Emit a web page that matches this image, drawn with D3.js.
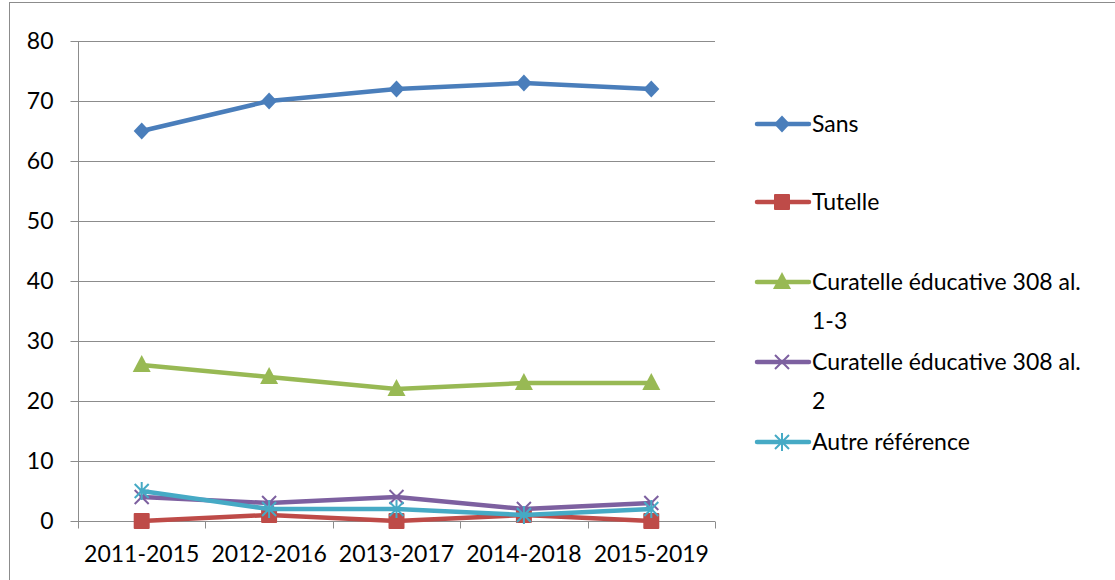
<!DOCTYPE html>
<html>
<head>
<meta charset="utf-8">
<script src="https://cdn.jsdelivr.net/npm/d3@7"></script>
<style>
  body { margin: 0; background: #fff; }
  svg text { font-family: Lato, "Open Sans", sans-serif; fill: #000; }
</style>
</head>
<body>
<div class="chart"></div>
<script>
// data
var periods = ["2011-2015", "2012-2016", "2013-2017", "2014-2018", "2015-2019"];
var sans = [65, 70, 72, 73, 72];
var tutelle = [0, 1, 0, 1, 0];
var curatelle13 = [26, 24, 22, 23, 23];
var curatelle2 = [4, 3, 4, 2, 3];
var autre = [5, 2, 2, 1, 2];
var yTicks = [0, 10, 20, 30, 40, 50, 60, 70, 80];

var series = [
    { name: ["Sans"], values: sans, color: "#4a7ebb", marker: "diamond" },
    { name: ["Tutelle"], values: tutelle, color: "#be4b48", marker: "square" },
    { name: ["Curatelle éducative 308 al.", "1-3"], values: curatelle13, color: "#98b954", marker: "triangle" },
    { name: ["Curatelle éducative 308 al.", "2"], values: curatelle2, color: "#7d60a0", marker: "x" },
    { name: ["Autre référence"], values: autre, color: "#46aac5", marker: "star" }
];

var svgWidth = 1115, svgHeight = 580;
var margin = { top: 41, left: 78, right: 400, bottom: 59 };
var width = 715 - margin.left;
var height = 521 - margin.top;
var fontSize = "23px";

var svg = d3.select(".chart").append("svg")
    .attr("width", svgWidth)
    .attr("height", svgHeight);

// outer frame
svg.append("rect")
    .attr("x", 9.5).attr("y", 2.5)
    .attr("width", 1120).attr("height", 600)
    .attr("fill", "none").attr("stroke", "#8c8c8c").attr("stroke-width", 1);

var chartGroup = svg.append("g")
    .attr("transform", `translate(${margin.left}, ${margin.top})`);

var xScale = d3.scaleBand().domain(periods).range([0, width]);
var yScale = d3.scaleLinear().domain([0, 80]).range([height, 0]);

// gridlines
chartGroup.append("g")
    .selectAll("line")
    .data(yTicks)
    .enter()
    .append("line")
    .attr("x1", 0).attr("x2", width)
    .attr("y1", d => Math.round(yScale(d)) + 0.5)
    .attr("y2", d => Math.round(yScale(d)) + 0.5)
    .attr("stroke", "#8c8c8c");

// y axis
var yAxis = d3.axisLeft(yScale).tickValues(yTicks).tickSize(8).tickPadding(17);
var yG = chartGroup.append("g").attr("transform", "translate(0.5,0)").call(yAxis);
yG.selectAll("path, line").attr("stroke", "#8c8c8c");
yG.selectAll("text").style("font-size", fontSize);
yG.select(".domain").attr("d", `M0,${height}V0`);

// x axis with ticks at band edges
var xG = chartGroup.append("g").attr("transform", `translate(0,${height + 0.5})`);
xG.append("line").attr("x1", 0).attr("x2", width).attr("stroke", "#8c8c8c");
var edges = periods.map(p => xScale(p)).concat([width]);
xG.selectAll(".edge")
    .data(edges)
    .enter()
    .append("line")
    .attr("class", "edge")
    .attr("x1", d => Math.round(d) + 0.5).attr("x2", d => Math.round(d) + 0.5)
    .attr("y1", 0).attr("y2", 7)
    .attr("stroke", "#8c8c8c");
xG.selectAll("text")
    .data(periods)
    .enter()
    .append("text")
    .attr("x", d => xScale(d) + xScale.bandwidth() / 2)
    .attr("y", 40)
    .attr("text-anchor", "middle")
    .style("font-size", fontSize)
    .text(d => d);

function drawMarker(g, type, color) {
    if (type === "diamond") {
        g.append("path").attr("d", "M0,-8.5L8,0L0,8.5L-8,0Z").attr("fill", color);
    } else if (type === "square") {
        g.append("rect").attr("x", -8).attr("y", -8).attr("width", 16).attr("height", 16)
            .attr("fill", color).attr("rx", 1);
    } else if (type === "triangle") {
        g.append("path").attr("d", "M0,-10L9,7L-9,7Z").attr("fill", color);
    } else if (type === "x") {
        g.append("path").attr("d", "M-7,-7L7,7M-7,7L7,-7")
            .attr("stroke", color).attr("stroke-width", 2).attr("fill", "none");
    } else if (type === "star") {
        g.append("path").attr("d", "M-7,-7L7,7M-7,7L7,-7M0,-9V9")
            .attr("stroke", color).attr("stroke-width", 2).attr("fill", "none");
    }
}

var line = d3.line()
    .x((d, i) => xScale(periods[i]) + xScale.bandwidth() / 2)
    .y(d => yScale(d));

series.forEach(function (s) {
    chartGroup.append("path")
        .datum(s.values)
        .attr("d", line)
        .attr("fill", "none")
        .attr("stroke", s.color)
        .attr("stroke-width", 4.5)
        .attr("stroke-linejoin", "round")
        .attr("stroke-linecap", "round");
    s.values.forEach(function (v, i) {
        var mg = chartGroup.append("g")
            .attr("transform", `translate(${xScale(periods[i]) + xScale.bandwidth() / 2},${yScale(v)})`);
        drawMarker(mg, s.marker, s.color);
    });
});

// legend
var legendY = [124, 202, 282, 362, 442];
var legend = svg.append("g");
series.forEach(function (s, i) {
    var g = legend.append("g").attr("transform", `translate(0,${legendY[i]})`);
    g.append("line")
        .attr("x1", 757).attr("x2", 809)
        .attr("stroke", s.color).attr("stroke-width", 4.5).attr("stroke-linecap", "round");
    var mg = g.append("g").attr("transform", "translate(782,0)");
    drawMarker(mg, s.marker, s.color);
    s.name.forEach(function (t, j) {
        g.append("text")
            .attr("x", 812)
            .attr("y", j * 39)
            .attr("dy", "0.36em")
            .style("font-size", fontSize)
            .text(t);
    });
});
</script>
</body>
</html>
